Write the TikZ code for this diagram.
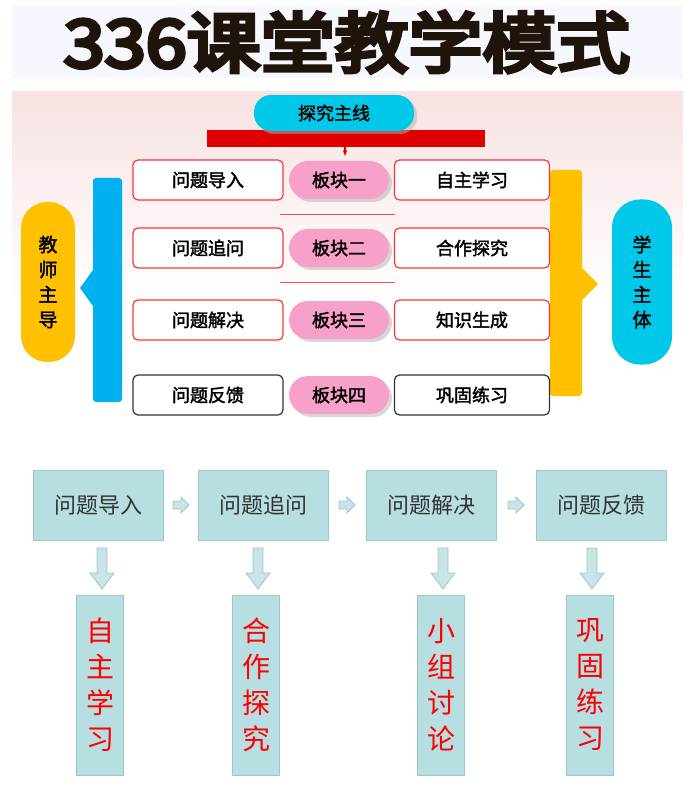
\documentclass[tikz,border=0pt]{standalone}
\usepackage{fontspec}
\newfontfamily\cjk{Noto Sans CJK SC}
\newfontfamily\cjkb{Noto Sans CJK SC}[FakeBold=2]
\newfontfamily\cjkt{Noto Sans CJK SC}[FakeBold=6]
\usetikzlibrary{shadows,arrows.meta}
\definecolor{tcol}{HTML}{1E140A}
\definecolor{cyanp}{HTML}{00C8E8}
\definecolor{bluebar}{HTML}{00B0F0}
\definecolor{yel}{HTML}{FFC000}
\definecolor{pinkp}{HTML}{F7A0C8}
\definecolor{redb}{HTML}{E00000}
\definecolor{boxc}{HTML}{B7DEE0}
\definecolor{boxd}{HTML}{9CC8CC}
\definecolor{arrc}{HTML}{C8E4E6}
\definecolor{bgp}{HTML}{F8E2E2}
\tikzset{
 pill/.style={rounded corners=17pt,minimum height=36pt,font=\cjkb\fontsize{18}{18}\selectfont,drop shadow={shadow xshift=3pt,shadow yshift=-3pt,fill=gray!60}},
 wbox/.style={draw=red!80,line width=1.2pt,fill=white,rounded corners=5pt,minimum width=150pt,minimum height=40pt,font=\cjkb\fontsize{18}{18}\selectfont},
 fbox/.style={draw=boxd,fill=boxc,minimum width=130pt,minimum height=70pt,font=\cjk\fontsize{22}{22}\selectfont,text=black!80},
 vbox/.style={draw=boxd,fill=boxc,minimum width=47pt,minimum height=180pt,font=\cjk\fontsize{28}{36}\selectfont,text=red,align=center},
 arrsty/.style={draw=boxd,fill=arrc,line width=0.8pt},
 rarrow/.pic={\path[arrsty] (-8,-4) -- (0,-4) -- (0,-8) -- (8,0) -- (0,8) -- (0,4) -- (-8,4) -- cycle;},
 darrow/.pic={\path[arrsty] (-5,-21) -- (5,-21) -- (5,4) -- (12,4) -- (0,20) -- (-12,4) -- (-5,4) -- cycle;}
}
\begin{document}
\begin{tikzpicture}[x=1pt,y=-1pt]
\useasboundingbox (0,0) rectangle (697,791);
\fill[white] (0,0) rectangle (697,791);
% title
\fill[blue!3] (12,5) rectangle (683,78);
\node[text=tcol,font=\cjkt\fontsize{66}{66}\selectfont,inner sep=0pt,xscale=1.12] (title) at (347,42) {336课堂教学模式};
% upper panel
\shade[top color=bgp,bottom color=white] (12,92) rectangle (683,300);
\fill[white] (12,300) rectangle (683,430);
\fill[redb] (207,130) rectangle (485,147);
\node[pill,fill=cyanp,minimum width=160pt] (main) at (334,113) {探究主线};
\coordinate (tip) at (345,156);
\draw[redb,line width=1.5pt,-{Stealth[length=6pt]}] (345,147) -- (tip);
% left side
\fill[bluebar,rounded corners=3pt] (93,178) rectangle (122,402);
\fill[bluebar] (93,270) -- (80,288) -- (93,306) -- cycle;
\node[fill=yel,rounded corners=26pt,minimum width=54pt,minimum height=160pt,font=\cjkb\fontsize{19}{25}\selectfont,align=center] (teach) at (48,282) {教\\师\\主\\导};
% right side
\fill[yel,rounded corners=3pt] (550,170) rectangle (582,396);
\fill[yel] (582,268) -- (598,284) -- (582,300) -- cycle;
\node[fill=cyanp,rounded corners=28pt,minimum width=60pt,minimum height=165pt,font=\cjkb\fontsize{19}{25}\selectfont,align=center] (stud) at (642,282) {学\\生\\主\\体};
% rows
\foreach \y/\a/\b/\c/\n/\col in {180/问题导入/板块一/自主学习/1/red!80,248/问题追问/板块二/合作探究/2/red!80,320/问题解决/板块三/知识生成/3/red!80,395/问题反馈/板块四/巩固练习/4/black!80}{
 \node[wbox,draw=\col] (l\n) at (208,\y) {\a};
 \node[wbox,draw=\col,minimum width=155pt] (r\n) at (472,\y) {\c};
 \node[pill,fill=pinkp,minimum width=100pt,minimum height=38pt,rounded corners=19pt] (m\n) at (339,\y) {\b};
}
\draw[red!70,line width=1pt] (280,215) -- (395,215);
\draw[red!70,line width=1pt] (280,282) -- (395,282);
% bottom flow
\node[fbox] (f1) at (98,505) {问题导入};
\node[fbox] (f2) at (263,505) {问题追问};
\node[fbox] (f3) at (431,505) {问题解决};
\node[fbox] (f4) at (601,505) {问题反馈};
\pic at (181,505) {rarrow};
\pic at (347,505) {rarrow};
\pic at (516,505) {rarrow};
\node[vbox] (v1) at (100,685) {自\\主\\学\\习};
\node[vbox] (v2) at (256,685) {合\\作\\探\\究};
\node[vbox] (v3) at (441,685) {小\\组\\讨\\论};
\node[vbox] (v4) at (590,685) {巩\\固\\练\\习};
\pic at (102,569) {darrow};
\pic at (258,569) {darrow};
\pic at (443,569) {darrow};
\pic at (592,569) {darrow};
\end{tikzpicture}
\end{document}
